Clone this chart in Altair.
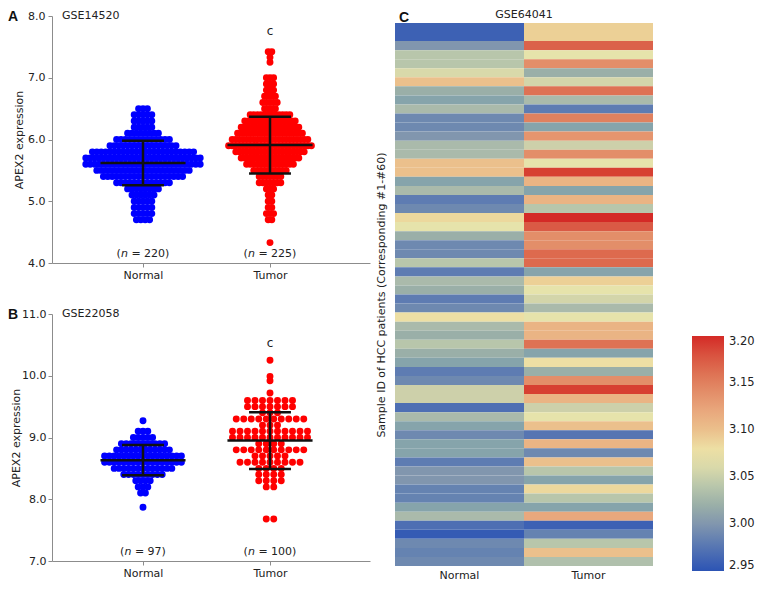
import altair as alt
import pandas as pd

# ---------------- data ----------------
categories = ["Normal", "Tumor"]

# Panel A  (GSE14520) - expression values, grouped in rows of the swarm (value, number of dots)
a_normal_vals = [4.7, 4.8, 4.9, 5.0, 5.1, 5.2, 5.3, 5.4, 5.5, 5.6, 5.7, 5.8, 5.9, 6.0, 6.1, 6.2, 6.3, 6.4, 6.5]
a_normal_counts = [4, 5, 5, 5, 6, 8, 13, 19, 22, 27, 27, 24, 16, 13, 8, 5, 5, 5, 3]
a_tumor_vals = [4.33, 4.7, 4.8, 4.9, 5.0, 5.1, 5.2, 5.3, 5.4, 5.5, 5.6, 5.7, 5.8, 5.9, 6.0, 6.1,
                6.2, 6.3, 6.4, 6.5, 6.6, 6.7, 6.8, 6.9, 7.0, 7.25, 7.33, 7.42]
a_tumor_counts = [1, 2, 3, 2, 2, 2, 3, 7, 7, 10, 14, 17, 20, 24, 22, 19,
                  17, 15, 12, 4, 5, 4, 3, 3, 3, 1, 1, 2]
a_median = [5.62, 5.91]
a_upper = [5.98, 6.37]
a_lower = [5.26, 5.45]
a_n = [220, 225]

# Panel B  (GSE22058)
b_normal_vals = [7.87, 8.1, 8.2, 8.3, 8.4, 8.5, 8.6, 8.7, 8.8, 8.9, 9.0, 9.1, 9.27]
b_normal_counts = [1, 2, 3, 4, 9, 13, 17, 17, 12, 10, 5, 3, 1]
b_tumor_vals = [7.68, 8.2, 8.3, 8.4, 8.5, 8.6, 8.7, 8.8, 8.9, 9.0, 9.1, 9.2, 9.3, 9.4,
                9.5, 9.6, 9.72, 9.92, 9.99, 10.25]
b_tumor_counts = [2, 2, 4, 4, 4, 9, 5, 10, 4, 11, 11, 3, 10, 3, 7, 7, 1, 1, 1, 1]
b_median = [8.63, 8.95]
b_upper = [8.88, 9.41]
b_lower = [8.39, 8.49]
b_n = [97, 100]

# Panel C  (GSE64041) heatmap, samples #1-#60
hm_normal = [2.96, 2.96, 3.00, 3.04, 3.04, 3.06, 3.10, 3.02, 3.01, 3.03,
             2.99, 2.99, 3.00, 3.03, 3.03, 3.10, 3.10, 3.01, 3.03, 2.98,
             2.99, 3.085, 3.07, 3.02, 2.99, 2.99, 3.04, 2.98, 3.03, 3.02,
             2.98, 2.99, 3.08, 3.03, 3.02, 3.04, 3.02, 3.01, 2.98, 2.99,
             3.05, 3.05, 2.97, 3.03, 3.01, 2.99, 3.01, 3.01, 2.98, 3.00,
             3.00, 2.985, 2.985, 3.01, 3.03, 2.97, 2.955, 2.99, 2.985, 2.99]
hm_tumor = [3.09, 3.09, 3.17, 3.07, 3.14, 3.02, 3.055, 3.16, 3.03, 2.98,
            3.15, 3.01, 3.135, 3.05, 3.14, 3.07, 3.19, 3.11, 3.01, 3.11,
            3.04, 3.20, 3.175, 3.14, 3.14, 3.165, 3.165, 3.01, 3.09, 3.07,
            3.055, 3.03, 3.07, 3.11, 3.11, 3.16, 3.01, 3.08, 3.02, 3.14,
            3.19, 3.11, 3.05, 3.07, 3.10, 2.975, 3.11, 2.99, 3.10, 3.04,
            3.01, 3.085, 3.04, 3.01, 3.12, 2.96, 2.985, 3.04, 3.10, 3.035]
colorbar_ticks = [2.95, 3.00, 3.05, 3.10, 3.15, 3.20]
color_stops = [2.95, 2.975, 3.0, 3.025, 3.05, 3.075, 3.1, 3.125, 3.15, 3.175, 3.2]
color_range = ["#2c54b4", "#5775b2", "#8196ae", "#a6b3aa", "#cdd0aa", "#ede7ab",
               "#ebc08c", "#e8a27a", "#e0815f", "#da5a45", "#d42a26"]

# ---------------- layout / style constants ----------------
W, H = 747, 575
FONT = "DejaVu Sans"
TXT = "#222222"
AXC = "#8c8c8c"
UNIT = 127.0            # px between the two categories
AX_LEFT, AX_RIGHT, CAT0 = 44, 362, 135
X_DOMAIN = [(AX_LEFT - CAT0) / UNIT, 1 + (AX_RIGHT - CAT0 - UNIT) / UNIT]
MED_HALF, WHISK_HALF = 0.335, 0.165
NFS = 11

AX_STYLE = dict(labelFont=FONT, labelFontSize=11, labelColor=TXT, titleFont=FONT,
                titleFontSize=11, titleFontWeight="normal", titleColor=TXT,
                domainColor=AXC, tickColor=AXC, grid=False)


def swarm(vals, counts, cat, spacing):
    rows = []
    for v, n in zip(vals, counts):
        for k in range(n):
            rows.append({"value": v, "x": cat + (k - (n - 1) / 2) * spacing / UNIT,
                         "group": categories[cat]})
    return rows


CW = {"(": 0.390, ")": 0.390, "n": 0.634, " ": 0.318, "=": 0.838}


def text_w(s, size):
    return sum(CW.get(ch, 0.636) for ch in s) * size


def n_parts(n_vals, y):
    plain, ital = [], []
    for cat, n in enumerate(n_vals):
        full = f"(n = {n})"
        start = -text_w(full, NFS) / 2
        plain.append({"x": cat + start / UNIT, "y": y, "t": "("})
        xn = start + text_w("(", NFS)
        ital.append({"x": cat + xn / UNIT, "y": y, "t": "n"})
        xr = xn + text_w("n ", NFS)
        plain.append({"x": cat + xr / UNIT, "y": y, "t": f"= {n})"})
    return pd.DataFrame(plain), pd.DataFrame(ital)


def panel(letter, gse, top_px, pts, med, up, lo, nvals, n_y, c_y, y_domain, y_range, y_vals,
          lab_pad, title_pad):
    xs = alt.Scale(domain=X_DOMAIN, range=[AX_LEFT, AX_RIGHT], nice=False, zero=False)
    ys = alt.Scale(domain=y_domain, range=y_range, nice=False, zero=False)
    xa = alt.Axis(orient="bottom", offset=y_range[0] - H, values=[0, 1],
                  labelExpr=f"datum.value == 0 ? '{categories[0]}' : '{categories[1]}'",
                  title=None, tickSize=4, labelPadding=2, **AX_STYLE)
    ya = alt.Axis(orient="left", offset=-AX_LEFT, values=y_vals, format=".1f",
                  title="APEX2 expression", tickSize=4, labelPadding=lab_pad,
                  titlePadding=title_pad, **AX_STYLE)

    def X(f):
        return alt.X(f, type="quantitative", scale=xs, axis=xa)

    def Y(f):
        return alt.Y(f, type="quantitative", scale=ys, axis=ya)

    pdf = pd.DataFrame(pts)
    sdf = pd.DataFrame({"cat": [0, 1], "median": med, "upper": up, "lower": lo})
    dots = alt.Chart(pdf).mark_circle(size=48, opacity=1).encode(
        x=X("x"), y=Y("value"),
        color=alt.Color("group:N", scale=alt.Scale(domain=categories, range=["#0000ff", "#ff0000"]),
                        legend=None))
    rule = dict(color="#111111", strokeWidth=2.5)
    med_l = alt.Chart(sdf).transform_calculate(
        xa=f"datum.cat - {MED_HALF}", xb=f"datum.cat + {MED_HALF}").mark_rule(**rule).encode(
        x=X("xa"), x2=alt.X2("xb"), y=Y("median"))
    up_l = alt.Chart(sdf).transform_calculate(
        xa=f"datum.cat - {WHISK_HALF}", xb=f"datum.cat + {WHISK_HALF}").mark_rule(**rule).encode(
        x=X("xa"), x2=alt.X2("xb"), y=Y("upper"))
    lo_l = alt.Chart(sdf).transform_calculate(
        xa=f"datum.cat - {WHISK_HALF}", xb=f"datum.cat + {WHISK_HALF}").mark_rule(**rule).encode(
        x=X("xa"), x2=alt.X2("xb"), y=Y("lower"))
    vert = alt.Chart(sdf).mark_rule(**rule).encode(x=X("cat"), y=Y("lower"), y2=alt.Y2("upper"))

    plain, ital = n_parts(nvals, n_y)
    n_plain = alt.Chart(plain).mark_text(font=FONT, fontSize=NFS, color=TXT, align="left",
                                         baseline="middle").encode(x=X("x"), y=Y("y"), text="t:N")
    n_ital = alt.Chart(ital).mark_text(font=FONT, fontSize=NFS, color=TXT, align="left",
                                       baseline="middle", fontStyle="italic").encode(
        x=X("x"), y=Y("y"), text="t:N")
    c_txt = alt.Chart(pd.DataFrame({"cat": [1], "y": [c_y], "t": ["c"]})).mark_text(
        font=FONT, fontSize=12, color=TXT, baseline="middle").encode(x=X("cat"), y=Y("y"), text="t:N")
    let = alt.Chart(pd.DataFrame({"t": [letter]})).mark_text(
        font="Liberation Sans", fontWeight="bold", fontSize=14, color="#111111", align="left",
        baseline="alphabetic").encode(x=alt.value(0), y=alt.value(top_px + 5), text="t:N")
    gse_t = alt.Chart(pd.DataFrame({"t": [gse]})).mark_text(
        font=FONT, fontSize=11, color=TXT, align="left", baseline="middle").encode(
        x=alt.value(AX_LEFT + 10), y=alt.value(top_px), text="t:N")
    return alt.layer(dots, med_l, up_l, lo_l, vert, n_plain, n_ital, c_txt, let, gse_t)


ptsA = swarm(a_normal_vals, a_normal_counts, 0, 4.4) + swarm(a_tumor_vals, a_tumor_counts, 1, 3.6)
ptsB = swarm(b_normal_vals, b_normal_counts, 0, 4.8) + swarm(b_tumor_vals, b_tumor_counts, 1, 7.5)

panelA = panel("A", "GSE14520", 8, ptsA, a_median, a_upper, a_lower, a_n, 4.14, 7.76,
               [4, 8], [255, 8], [4, 5, 6, 7, 8], 3, 3)
panelB = panel("B", "GSE22058", 306, ptsB, b_median, b_upper, b_lower, b_n, 7.145, 10.53,
               [7, 11], [553, 306], [7, 8, 9, 10, 11], 2, 0)

# ---------------- panel C heatmap ----------------
HX0, HX1, HY0, HY1 = 387, 645, 15, 558
hm_df = pd.DataFrame({"row": list(range(1, 61)) * 2,
                      "group": [categories[0]] * 60 + [categories[1]] * 60,
                      "val": hm_normal + hm_tumor})
heat = alt.Chart(hm_df).mark_rect().encode(
    x=alt.X("group:N", scale=alt.Scale(domain=categories, range=[HX0, HX1], paddingInner=0, paddingOuter=0),
            axis=alt.Axis(orient="bottom", offset=HY1 - H, labelAngle=0, ticks=False, tickSize=0,
                          domain=False, labelPadding=3, title=None, **AX_STYLE)),
    y=alt.Y("row:O", scale=alt.Scale(range=[HY0, HY1], paddingInner=0, paddingOuter=0),
            axis=alt.Axis(orient="left", offset=-HX0, labels=False, ticks=False, domain=False,
                          title="Sample ID of HCC patients (Corresponding #1-#60)", titlePadding=9,
                          **AX_STYLE)),
    color=alt.Color("val:Q", scale=alt.Scale(domain=color_stops, range=color_range, clamp=True),
                    legend=alt.Legend(orient="none", legendX=684, legendY=328, direction="vertical",
                                      gradientLength=235, gradientThickness=32, values=colorbar_ticks,
                                      format=".2f", labelFont=FONT, labelFontSize=11.5, labelColor=TXT,
                                      labelOffset=5, title=None, padding=0, gradientStrokeWidth=0)),
)
c_let = alt.Chart(pd.DataFrame({"t": ["C"]})).mark_text(
    font="Liberation Sans", fontWeight="bold", fontSize=14, color="#111111", align="left",
    baseline="alphabetic").encode(x=alt.value(HX0 + 4), y=alt.value(14), text="t:N")
c_title = alt.Chart(pd.DataFrame({"t": ["GSE64041"]})).mark_text(
    font=FONT, fontSize=11, color=TXT, align="center", baseline="middle").encode(
    x=alt.value((HX0 + HX1) / 2), y=alt.value(7), text="t:N")
panelC = alt.layer(heat, c_let, c_title)

chart = alt.layer(panelA, panelB, panelC).resolve_scale(
    x="independent", y="independent", color="independent"
).properties(
    width=W, height=H, autosize=alt.AutoSizeParams(type="none"), padding=0, background="white"
).configure_view(strokeWidth=0)

chart.save("out.html", embed_options={"renderer": "svg", "actions": False})
